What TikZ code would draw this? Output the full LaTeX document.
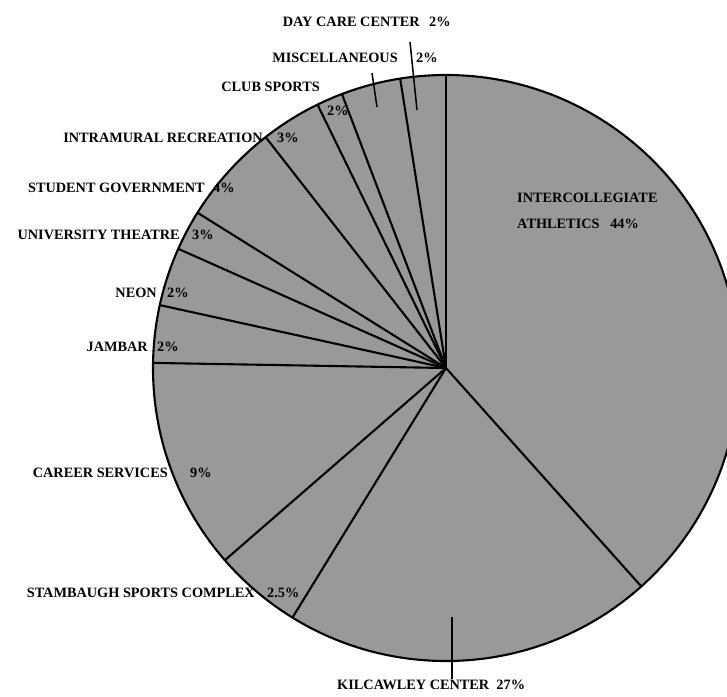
\documentclass[tikz,border=0pt]{standalone}
\usepackage{fontspec}
\setmainfont{Liberation Serif}
\usetikzlibrary{calc}

\begin{document}
\begin{tikzpicture}[x=0.03cm,y=0.03cm,
    lbl/.style={font=\bfseries\fontsize{12.2}{14}\selectfont,inner sep=0pt},
    slice/.style={line width=1.8pt},
    ptr/.style={line width=1.3pt}]
  \clip (0,0) rectangle (727,-696);
  \coordinate (O) at (446,-368);
  \fill[black!40] (O) circle (293);
  \foreach \a in {90,99,110.8,116,128,148,156,167.6,179,221,238.4,311.8}
    \draw[slice] (O) -- ++(\a:293);
  \draw[slice] (O) circle (293);
  % top labels
  \node[lbl,anchor=east] (daycare) at (420,-22) {DAY CARE CENTER};
  \node[lbl,anchor=west] (daycarepct) at (429,-22) {2\%};
  \node[lbl,anchor=east] (misc) at (398,-58) {MISCELLANEOUS};
  \node[lbl,anchor=west] (miscpct) at (416,-58) {2\%};
  \node[lbl,anchor=east] (club) at (320,-87) {CLUB SPORTS};
  \node[lbl,anchor=west] (clubpct) at (327,-111) {2\%};
  \coordinate (dcTip) at (417,-110);
  \coordinate (miscTip) at (377,-107);
  \draw[ptr] (dcTip) -- ($(daycare.south east)+(-10,-15)$);
  \draw[ptr] (miscTip) -- ($(misc.south east)+(-26,-10)$);
  % left labels
  \node[lbl,anchor=east] (intra) at (263,-138) {INTRAMURAL RECREATION};
  \node[lbl,anchor=west] (intrapct) at (277,-138) {3\%};
  \node[lbl,anchor=east] (studgov) at (205,-188) {STUDENT GOVERNMENT};
  \node[lbl,anchor=west] (studgovpct) at (213,-188) {4\%};
  \node[lbl,anchor=east] (theatre) at (180,-235) {UNIVERSITY THEATRE};
  \node[lbl,anchor=west] (theatrepct) at (192,-235) {3\%};
  \node[lbl,anchor=east] (neon) at (157,-293) {NEON};
  \node[lbl,anchor=west] (neonpct) at (167,-293) {2\%};
  \node[lbl,anchor=east] (jambar) at (148,-347) {JAMBAR};
  \node[lbl,anchor=west] (jambarpct) at (157,-347) {2\%};
  \node[lbl,anchor=east] (career) at (168,-473) {CAREER SERVICES};
  \node[lbl,anchor=west] (careerpct) at (190,-473) {9\%};
  \node[lbl,anchor=east] (stam) at (255,-593) {STAMBAUGH SPORTS COMPLEX};
  \node[lbl,anchor=west] (stampct) at (267,-593) {2.5\%};
  % bottom and inside
  \node[lbl,anchor=west] (kil) at (337,-685) {KILCAWLEY CENTER \ 27\%};
  \coordinate (kilTip) at (452,-617);
  \draw[ptr] (kilTip) -- ([yshift=1pt]kilTip |- kil.north);
  \node[lbl,anchor=north west,align=left] (inter) at (517,-193)
    {INTERCOLLEGIATE\\[8pt]ATHLETICS \ \ 44\%};
\end{tikzpicture}
\end{document}
